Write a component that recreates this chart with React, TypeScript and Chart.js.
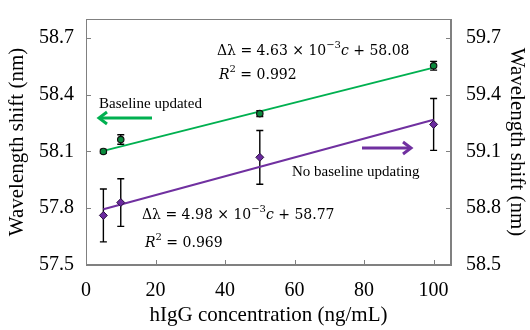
import React, { useEffect, useRef } from "react";
import { Chart, registerables } from "chart.js";
Chart.register(...registerables);

const concentrations = [5, 10, 50, 100];
const baselineShift = [58.1, 58.163, 58.3, 58.553];
const baselineErr = [0.01, 0.025, 0.015, 0.023];
const noBaselineShift = [58.762, 58.83, 59.069, 59.243];
const noBaselineErr = [0.14, 0.126, 0.142, 0.137];
const fitRange = [5, 100];
const baselineFit = [58.103, 58.543];
const noBaselineFit = [58.795, 59.268];
const xTicks = [0, 20, 40, 60, 80, 100];
const leftTicks = [57.5, 57.8, 58.1, 58.4, 58.7];
const rightTicks = [58.5, 58.8, 59.1, 59.4, 59.7];

const GREEN = "#00b050";
const PURPLE = "#7030a0";
const AXIS = "#808080";
const SERIF = "'Liberation Serif', 'Times New Roman', serif";
const MATH = "'DejaVu Serif', serif";

type Run = { text: string; font: string; dy?: number };
function drawRuns(ctx: CanvasRenderingContext2D, x: number, y: number, runs: Run[]) {
  let cx = x;
  for (const r of runs) {
    ctx.font = r.font;
    ctx.fillText(r.text, cx, y + (r.dy || 0));
    cx += ctx.measureText(r.text).width;
  }
}

function arrow(ctx: CanvasRenderingContext2D, x1: number, x2: number, y: number, color: string) {
  ctx.save();
  ctx.strokeStyle = color;
  ctx.lineWidth = 3;
  ctx.lineCap = "butt";
  ctx.beginPath();
  ctx.moveTo(x1, y);
  ctx.lineTo(x2, y);
  ctx.stroke();
  const dir = x2 > x1 ? 1 : -1;
  ctx.lineJoin = "miter";
  ctx.beginPath();
  ctx.moveTo(x2 - dir * 8, y - 6);
  ctx.lineTo(x2, y);
  ctx.lineTo(x2 - dir * 8, y + 6);
  ctx.stroke();
  ctx.restore();
}

const errorBars = [
  { axis: "y", values: baselineShift, errs: baselineErr },
  { axis: "y2", values: noBaselineShift, errs: noBaselineErr },
];

const plugin = {
  id: "custom",
  beforeDatasetsDraw(chart: any) {
    const ctx = chart.ctx as CanvasRenderingContext2D;
    const xs = chart.scales.x;
    ctx.save();
    ctx.strokeStyle = "#000";
    ctx.lineWidth = 1.4;
    for (const eb of errorBars) {
      const ys = chart.scales[eb.axis];
      eb.values.forEach((v, i) => {
        const px = xs.getPixelForValue(concentrations[i]);
        const top = ys.getPixelForValue(v + eb.errs[i]);
        const bot = ys.getPixelForValue(v - eb.errs[i]);
        ctx.beginPath();
        ctx.moveTo(px, top);
        ctx.lineTo(px, bot);
        ctx.moveTo(px - 3.5, top);
        ctx.lineTo(px + 3.5, top);
        ctx.moveTo(px - 3.5, bot);
        ctx.lineTo(px + 3.5, bot);
        ctx.stroke();
      });
    }
    ctx.restore();
  },
  afterDatasetsDraw(chart: any) {
    const ctx = chart.ctx as CanvasRenderingContext2D;
    const a = chart.chartArea;
    const xs = chart.scales.x;
    const yl = chart.scales.y;
    const yr = chart.scales.y2;
    ctx.save();
    ctx.strokeStyle = AXIS;
    ctx.lineWidth = 1;
    ctx.strokeRect(a.left + 0.5, a.top + 0.5, a.right - a.left - 1, a.bottom - a.top - 1);
    ctx.beginPath();
    xTicks.forEach((v) => {
      const p = Math.round(xs.getPixelForValue(v)) + 0.5;
      ctx.moveTo(p, a.bottom);
      ctx.lineTo(p, a.bottom - 5);
    });
    leftTicks.forEach((v) => {
      const p = Math.round(yl.getPixelForValue(v)) + 0.5;
      ctx.moveTo(a.left, p);
      ctx.lineTo(a.left + 5, p);
    });
    rightTicks.forEach((v) => {
      const p = Math.round(yr.getPixelForValue(v)) + 0.5;
      ctx.moveTo(a.right, p);
      ctx.lineTo(a.right - 5, p);
    });
    ctx.stroke();

    ctx.fillStyle = "#000";
    ctx.textBaseline = "middle";
    ctx.textAlign = "left";
    const f = `14px ${MATH}`;
    const fi = `italic 14px ${MATH}`;
    const fs = `10px ${MATH}`;
    drawRuns(ctx, 217, 51, [
      { text: "Δλ = 4.63 × 10", font: f },
      { text: "−3", font: fs, dy: -6 },
      { text: "c", font: fi },
      { text: " + 58.08", font: f },
    ]);
    drawRuns(ctx, 219, 75, [
      { text: "R", font: fi },
      { text: "2", font: fs, dy: -6 },
      { text: " = 0.992", font: f },
    ]);
    drawRuns(ctx, 142, 215, [
      { text: "Δλ = 4.98 × 10", font: f },
      { text: "−3", font: fs, dy: -6 },
      { text: "c", font: fi },
      { text: " + 58.77", font: f },
    ]);
    drawRuns(ctx, 145, 243, [
      { text: "R", font: fi },
      { text: "2", font: fs, dy: -6 },
      { text: " = 0.969", font: f },
    ]);
    ctx.font = `15px ${SERIF}`;
    ctx.fillText("Baseline updated", 99, 104);
    ctx.fillText("No baseline updating", 292, 172);
    arrow(ctx, 152, 99, 118, GREEN);
    arrow(ctx, 362, 411, 148, PURPLE);
    ctx.restore();
  },
};

export default function App() {
  const ref = useRef<HTMLCanvasElement | null>(null);
  useEffect(() => {
    if (!ref.current) return;
    const tickFont = { family: SERIF, size: 20 };
    const titleFont = { family: SERIF, size: 21 };
    const chart = new Chart(ref.current, {
      type: "scatter",
      data: {
        datasets: [
          {
            label: "Baseline updated",
            data: concentrations.map((c, i) => ({ x: c, y: baselineShift[i] })),
            yAxisID: "y",
            pointStyle: "circle",
            pointRadius: 3.2,
            pointBackgroundColor: "#0a8a3c",
            pointBorderColor: "#111",
            pointBorderWidth: 1.2,
            showLine: false,
          },
          {
            label: "No baseline updating",
            data: concentrations.map((c, i) => ({ x: c, y: noBaselineShift[i] })),
            yAxisID: "y2",
            pointStyle: "rectRot",
            pointRadius: 4,
            pointBackgroundColor: "#6a2a9e",
            pointBorderColor: "#2a1040",
            pointBorderWidth: 1,
            showLine: false,
          },
          {
            label: "fit1",
            data: fitRange.map((c, i) => ({ x: c, y: baselineFit[i] })),
            yAxisID: "y",
            showLine: true,
            borderColor: GREEN,
            borderWidth: 2,
            pointRadius: 0,
          },
          {
            label: "fit2",
            data: fitRange.map((c, i) => ({ x: c, y: noBaselineFit[i] })),
            yAxisID: "y2",
            showLine: true,
            borderColor: PURPLE,
            borderWidth: 2,
            pointRadius: 0,
          },
        ],
      },
      options: {
        animation: false,
        responsive: false,
        layout: { padding: { top: 7, left: 0, right: 0, bottom: 0 } },
        plugins: { legend: { display: false }, tooltip: { enabled: false } },
        scales: {
          x: {
            type: "linear",
            min: 0,
            max: 105,
            afterBuildTicks: (s: any) => {
              s.ticks = xTicks.map((v) => ({ value: v }));
            },
            afterFit: (s: any) => {
              s.height = 65;
            },
            grid: { display: false },
            border: { display: true, color: AXIS },
            ticks: { color: "#000", font: tickFont, padding: 6, maxRotation: 0 },
            title: {
              display: true,
              text: "hIgG concentration (ng/mL)",
              color: "#000",
              font: titleFont,
              padding: { top: 0, bottom: 2 },
            },
          },
          y: {
            type: "linear",
            position: "left",
            min: 57.5,
            max: 58.8,
            afterBuildTicks: (s: any) => {
              s.ticks = leftTicks.map((v) => ({ value: v }));
            },
            afterFit: (s: any) => {
              s.width = 86;
            },
            grid: { display: false },
            border: { display: true, color: AXIS },
            ticks: { color: "#000", font: tickFont, padding: 4, callback: (v: any) => Number(v).toFixed(1) },
            title: {
              display: true,
              text: "Wavelength shift (nm)",
              color: "#000",
              font: titleFont,
              padding: { top: 5, bottom: 0 },
            },
          },
          y2: {
            type: "linear",
            position: "right",
            min: 58.5,
            max: 59.8,
            afterBuildTicks: (s: any) => {
              s.ticks = rightTicks.map((v) => ({ value: v }));
            },
            afterFit: (s: any) => {
              s.width = 79;
            },
            grid: { display: false },
            border: { display: true, color: AXIS },
            ticks: { color: "#000", font: tickFont, padding: 7, callback: (v: any) => Number(v).toFixed(1) },
            title: {
              display: true,
              text: "Wavelength shift (nm)",
              color: "#000",
              font: titleFont,
              padding: { top: 1, bottom: 0 },
            },
          },
        },
      },
      plugins: [plugin],
    } as any);
    return () => chart.destroy();
  }, []);
  return (
    <div style={{ position: "absolute", left: 0, top: 0, width: 530, height: 330, background: "#fff" }}>
      <canvas ref={ref} width={530} height={330} style={{ display: "block" }} />
    </div>
  );
}
